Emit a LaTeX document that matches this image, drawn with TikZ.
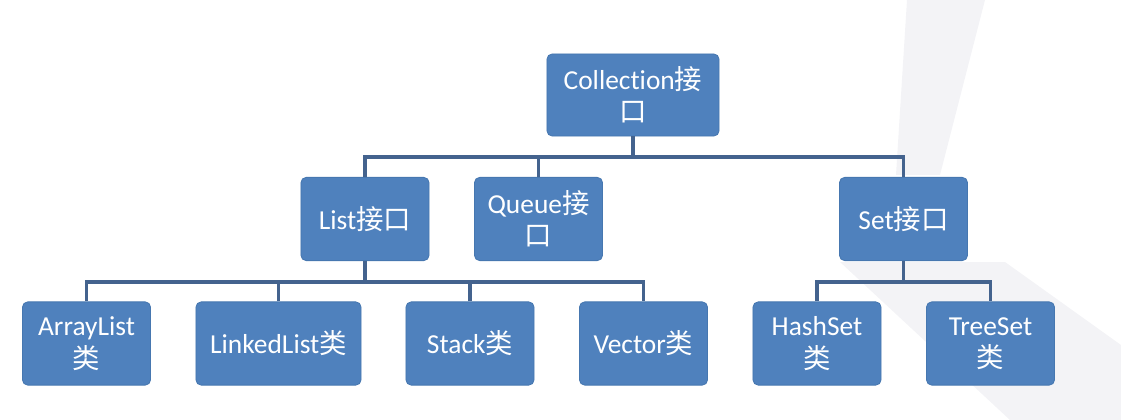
\documentclass[tikz,border=0pt]{standalone}
\usepackage{fontspec}
\setmainfont{Carlito}[Ligatures=NoCommon]
\newfontfamily\cjk{Noto Sans CJK SC}
\definecolor{boxblue}{HTML}{4F81BD}
\definecolor{boxedge}{HTML}{4677B0}
\definecolor{linkblue}{HTML}{44638E}
\definecolor{slidegray}{HTML}{F3F3F6}
\usetikzlibrary{positioning}

\begin{document}
\begin{tikzpicture}[x=0.025cm, y=-0.025cm,
    every node/.style={font=\fontsize{19.5}{23}\selectfont},
    box/.style={draw=boxedge, line width=0.6pt, fill=boxblue, rounded corners=0.13cm,
                text=white, align=center, inner sep=1pt,
                minimum width=3.2cm, minimum height=2.08cm},
    link/.style={draw=linkblue, line width=2.8pt}]
      \useasboundingbox (0,0) rectangle (1121,420);
      % slide background
      \fill[slidegray] (907,0) -- (985,0) -- (940,175) -- (896,175) -- cycle;
      \fill[slidegray] (840,262) -- (1005,262) -- (1121,345) -- (1121,420) -- (1010,420) -- cycle;
      % interfaces
      \node[box, minimum width=4.3cm, minimum height=2.05cm] (coll) at (633,95)
            {Collection{\cjk 接}\\{\cjk 口}};
      \node[box] (list) at (365,219) {List{\cjk 接口}};
      \node[box] (queue) at (538.5,219) {Queue{\cjk 接}\\{\cjk 口}};
      \node[box] (set) at (903.5,219) {Set{\cjk 接口}};
      % classes
      \node[box] (arr) at (86.5,343.5) {ArrayList\\{\cjk 类}};
      \node[box, minimum width=4.125cm] (linked) at (278.5,343.5) {LinkedList{\cjk 类}};
      \node[box] (stack) at (470,343.5) {Stack{\cjk 类}};
      \node[box] (vector) at (643.5,343.5) {Vector{\cjk 类}};
      \node[box] (hash) at (817,343.5) {HashSet\\{\cjk 类}};
      \node[box] (tree) at (990.5,343.5) {TreeSet\\{\cjk 类}};
      % buses
      \coordinate (upbus) at (0,157);
      \coordinate (lowbus) at (0,282);
      \draw[link] (coll.south) -- (coll.south |- upbus);
      \draw[link] (list.north) -- (list.north |- upbus) -- (set.north |- upbus) -- (set.north);
      \draw[link] (queue.north) -- (queue.north |- upbus);
      \draw[link] (list.south) -- (list.south |- lowbus);
      \draw[link] (arr.north) -- (arr.north |- lowbus) -- (vector.north |- lowbus) -- (vector.north);
      \draw[link] (linked.north) -- (linked.north |- lowbus);
      \draw[link] (stack.north) -- (stack.north |- lowbus);
      \draw[link] (set.south) -- (set.south |- lowbus);
      \draw[link] (hash.north) -- (hash.north |- lowbus) -- (tree.north |- lowbus) -- (tree.north);
    \end{tikzpicture}
\end{document}
